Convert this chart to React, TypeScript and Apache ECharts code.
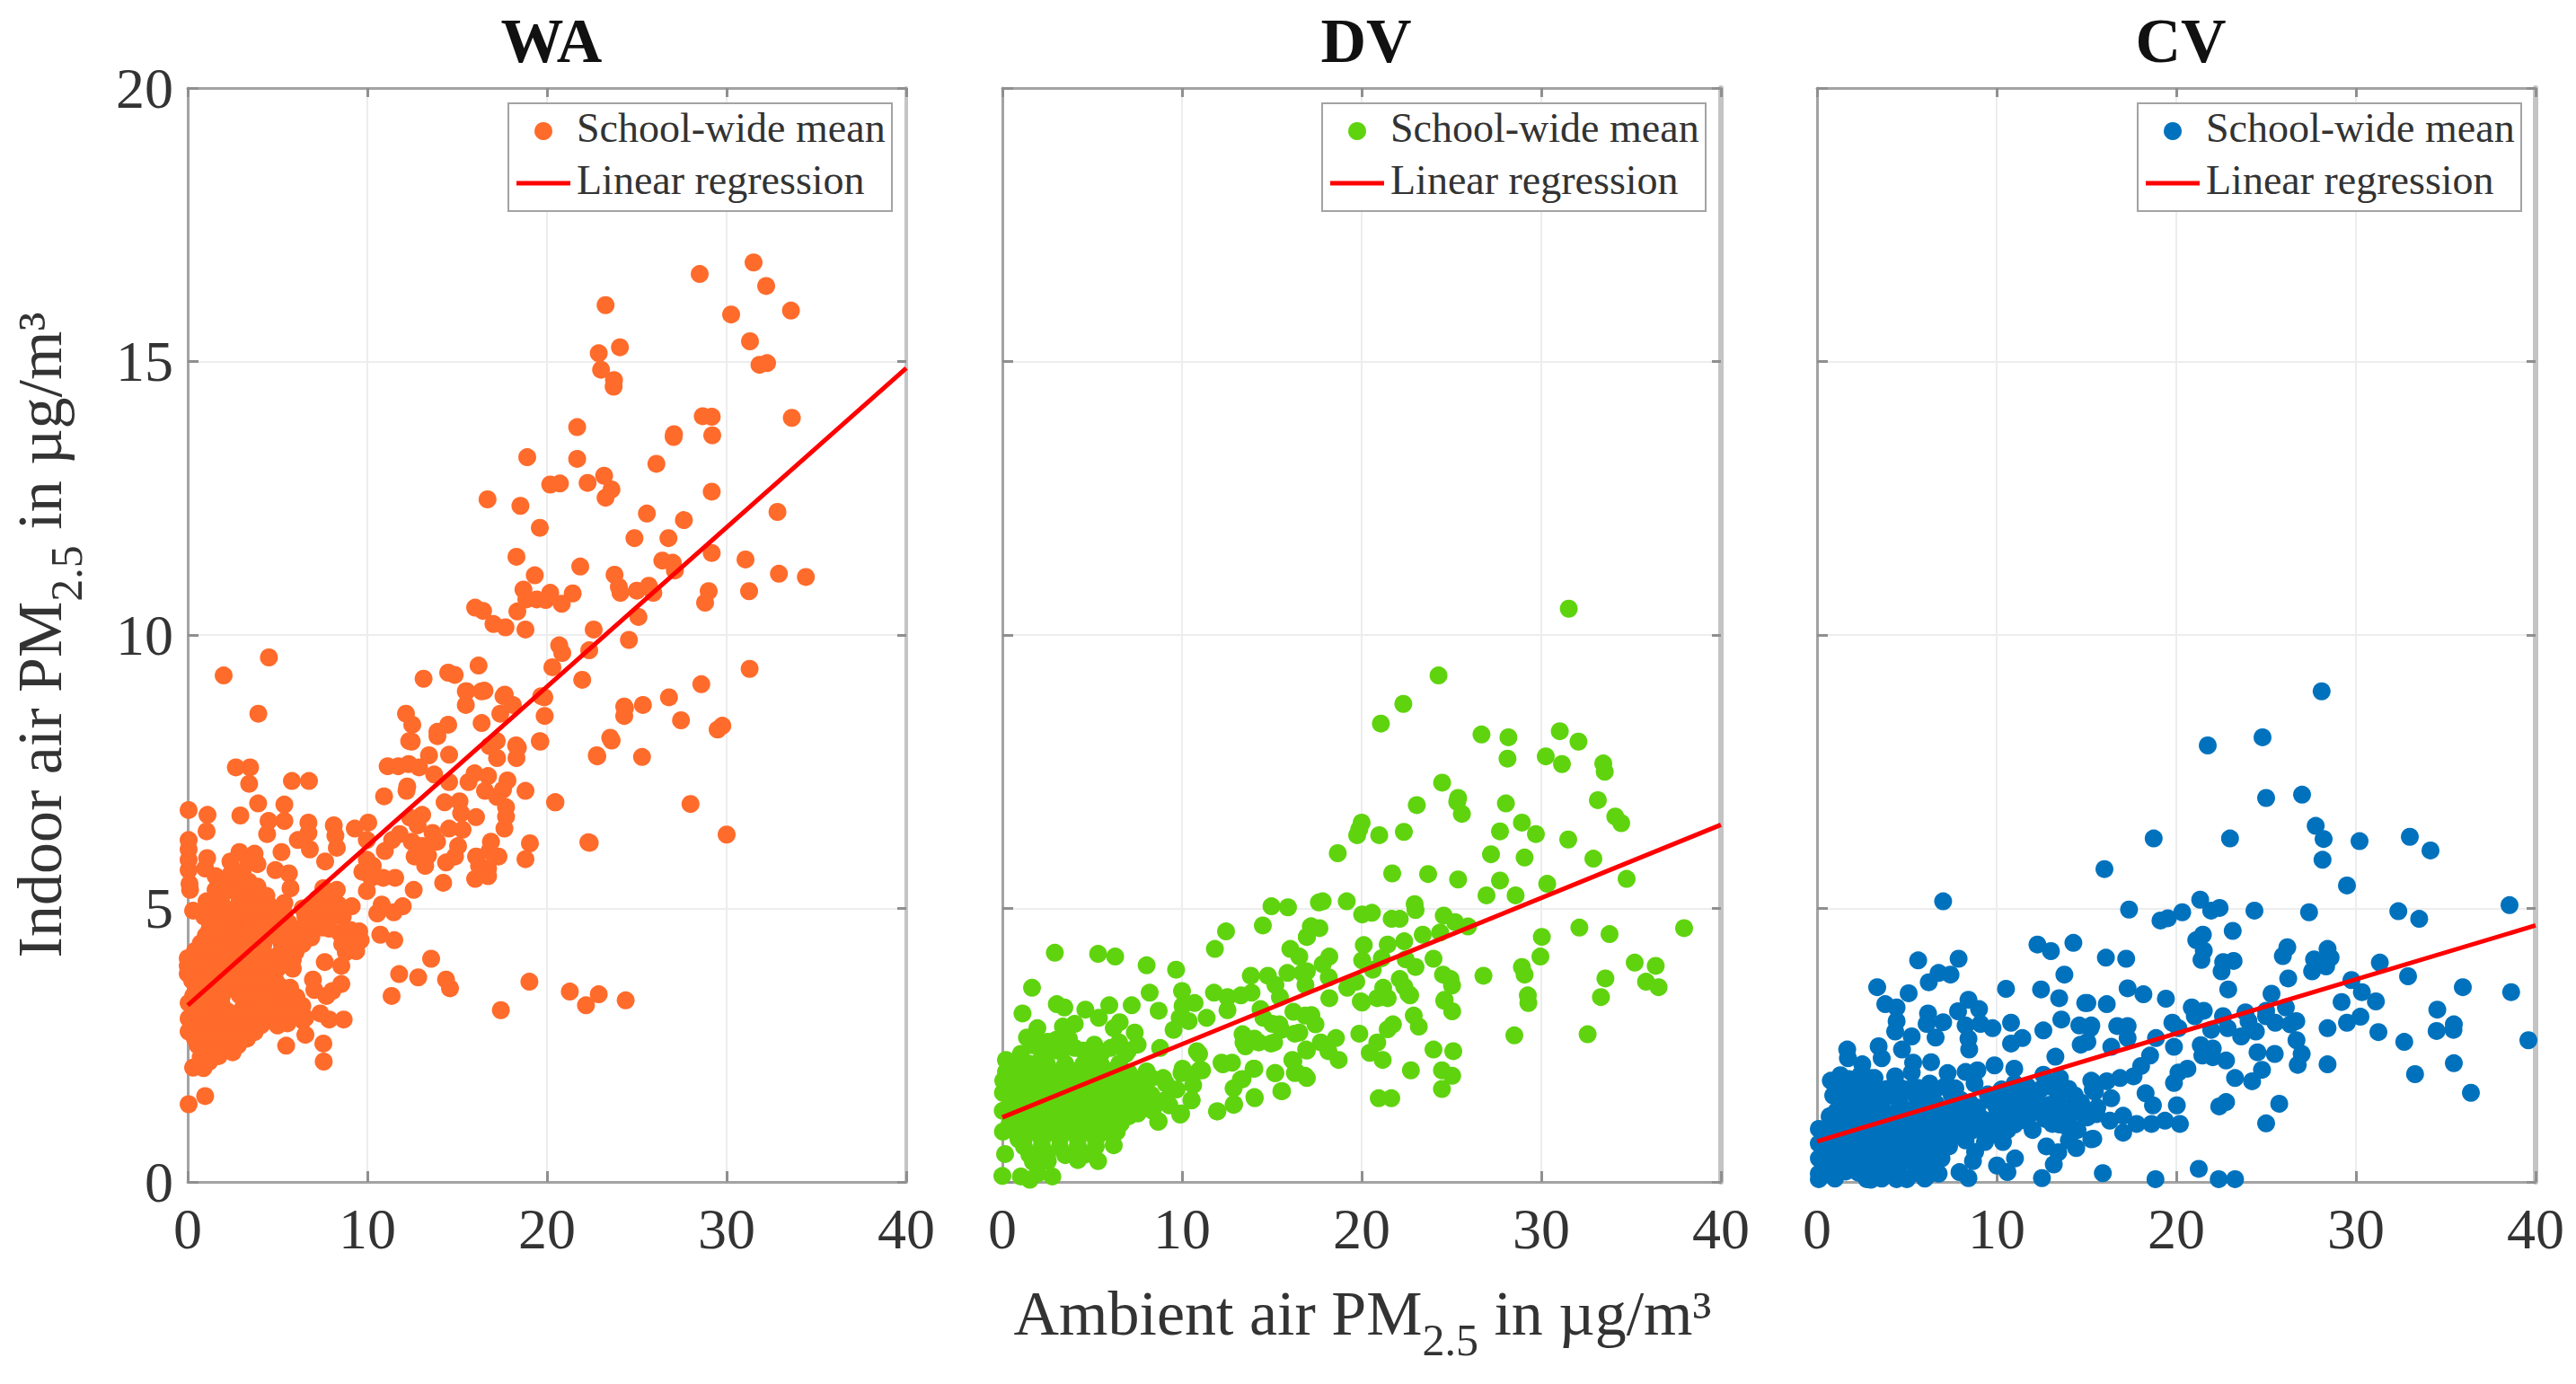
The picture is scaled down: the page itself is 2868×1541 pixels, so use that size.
import React, { useEffect, useRef } from "react";
import * as echarts from "echarts";

const xTicks = [0, 10, 20, 30, 40];
const yTicks = [0, 5, 10, 15, 20];
const panelNames = ["WA", "DV", "CV"];
const legendPoint = "School-wide mean";
const legendLine = "Linear regression";
const xAxisLabel = "{a|Ambient air PM}{s|2.5}{a| in µg/m³}";
const yAxisLabel = "{a|Indoor air PM}{s|2.5}{a| in µg/m³}";

const waPoints: number[][] = [
  [0.05,1.42],[0.97,1.57],[7.57,2.2],[7.55,2.53],[5.48,2.49],[6.55,2.69],[5.55,2.9],[8.68,2.97],[7.88,2.97],[7.38,3.08],[17.43,3.14],[11.35,3.4],[22.17,3.23],[21.27,3.48],[22.88,3.43],[24.38,3.32],[19.02,3.66],[14.6,3.54],[14.38,3.7],[12.83,3.74],[11.77,3.8],[13.55,4.08],[11.5,4.42],[10.72,4.52],[8.55,3.62],[8.05,3.49],[7.72,3.4],[7.05,3.51],[6.97,3.7],[7.63,4.02],[8.55,3.95],[5.85,3.9],[5.85,4.06],[9.38,4.22],[9.63,4.42],[9.55,4.58],[8.97,4.31],[8.88,4.47],[8.47,4.55],[10.55,4.91],[10.8,5.07],[11.47,4.93],[11.97,5.04],[12.58,5.34],[9.97,5.32],[9.13,5.04],[8.63,4.85],[8.38,5.07],[8.3,5.34],[7.55,5.37],[7.55,4.91],[6.88,4.47],[6.72,4.8],[7.88,4.63],[5.72,5.37],[5.63,5.64],[4.88,5.7],[5.22,6.03],[7.65,5.86],[6.8,6.08],[6.13,6.25],[6.72,6.57],[6.72,6.38],[8.13,6.52],[8.3,6.11],[8.22,6.33],[9.3,6.46],[10.05,6.57],[9.97,6.25],[10.3,5.78],[9.97,5.89],[10.22,5.56],[11.55,5.56],[10.88,5.56],[10.97,6.05],[11.38,6.25],[11.8,6.36],[5.38,6.9],[5.38,6.6],[4.5,6.6],[4.42,6.36],[3.92,6.92],[2.93,6.7],[3.42,7.28],[3.47,7.58],[2.68,7.58],[5.8,7.33],[6.75,7.33],[0.05,6.8],[1.1,6.71],[1.05,6.41],[0.05,6.25],[0.05,6.08],[0.05,5.89],[0.05,5.7],[1.08,5.92],[0.97,5.73],[0.13,5.34],[0.1,5.45],[0.3,4.96],
  [2.88,6.03],[3.72,6.0],[2.38,5.86],[3.38,5.84],[3.88,5.81],[1.55,5.59],[2.38,5.62],[3.05,5.67],[1.55,5.34],[2.38,5.34],[3.3,5.34],[3.88,5.4],[4.38,5.23],[1.05,5.13],[1.88,5.1],[2.88,5.12],[3.72,5.1],[4.55,5.05],[5.38,5.1],
  [0.92,4.85],[2.05,4.8],[2.88,4.88],[3.88,4.82],[4.72,4.78],[5.38,4.9],[1.22,4.63],[2.05,4.6],[3.05,4.65],[4.05,4.6],[4.88,4.65],[6.22,4.62],[7.22,4.66],[0.72,4.36],[1.55,4.38],[2.38,4.34],[3.38,4.38],[4.22,4.35],[5.22,4.37],[6.05,4.34],[0,4.09],[0.8,4.1],[1.72,4.07],[2.72,4.1],[3.72,4.08],[4.72,4.1],[5.72,4.07],[0,3.81],[0.72,3.83],[1.63,3.8],[2.55,3.82],[3.55,3.8],[4.38,3.82],[0,3.95],[0.47,3.54],[1.38,3.56],[2.3,3.53],[3.55,3.55],[4.38,3.53],[5.22,3.56],[6.05,3.38],[0.05,3.27],[0.88,3.28],[1.88,3.26],[3.38,3.28],[4.38,3.26],[5.38,3.28],[6.38,3.22],[0.05,2.99],[0.88,3.0],[1.72,2.98],[2.55,3.0],[3.72,2.98],[4.55,3.0],[6.55,3.0],[0.05,2.75],[0.88,2.76],[1.72,2.74],[2.38,2.76],[3.72,2.74],[0.55,2.5],[1.38,2.52],[2.22,2.49],[2.8,2.5],[0.72,2.28],[1.72,2.3],[0.3,2.09],[0.88,2.08],
  [6.55,4.85],[8.05,4.85],[7.22,5.18],[7.88,5.13],[5.88,4.63],[9.72,5.67],[8.8,4.2],[9.1,4.6],[8.6,4.35],[9.3,4.35],
  [1.45,4.95],[2.4,4.97],[3.3,4.93],[4.3,4.96],[5.0,4.92],[1.6,4.72],[2.5,4.73],[3.5,4.71],[4.5,4.72],[5.6,4.74],[6.7,4.7],[1.0,4.5],[1.9,4.51],[2.9,4.49],[3.8,4.5],[4.6,4.51],[5.6,4.49],[0.4,4.22],[1.2,4.23],[2.2,4.21],[3.2,4.23],[4.2,4.22],[5.2,4.21],[5.9,4.23],[0.35,3.95],[1.2,3.96],[2.1,3.94],[3.1,3.96],[4.0,3.95],[5.0,3.94],[0.25,3.68],[1.0,3.69],[2.0,3.67],[3.0,3.69],[4.0,3.68],[4.9,3.67],[0.3,3.4],[1.1,3.41],[1.9,3.39],[2.9,3.41],[3.9,3.4],[4.8,3.39],[5.7,3.41],[0.45,3.13],[1.3,3.14],[2.2,3.12],[3.0,3.14],[3.9,3.13],[5.0,3.12],[6.0,3.14],[0.45,2.87],[1.3,2.88],[2.1,2.86],[3.1,2.88],[4.1,2.87],[5.0,2.86],[0.4,2.62],[1.2,2.63],[1.9,2.61],[2.6,2.63],[3.3,2.62],[0.9,2.38],[1.8,2.39],[2.5,2.37],[1.2,2.2],[1.9,5.25],[2.8,5.26],[3.5,5.24],[4.1,5.25],[1.9,5.5],[2.8,5.51],[3.4,5.49],
  [6.4,5.0],[7.0,5.02],[7.9,4.98],[6.0,4.2],[7.5,4.65],[6.4,4.35],[5.0,3.9],[5.4,3.5],[5.9,3.1],[6.4,2.95],[5.7,3.55],[4.7,3.3],
  [12.47,8.05],[13.9,8.15],[19.63,8.05],[23.6,8.07],[22.8,7.78],[13.43,7.8],[14.55,7.81],[18.3,7.75],[18.38,7.94],[17.22,7.75],[16.8,7.97],[11.13,7.6],[11.72,7.6],[12.3,7.64],[12.88,7.58],[13.72,7.45],[14.55,7.31],[12.22,7.23],[10.93,7.05],[12.18,7.15],[15.97,7.47],[16.72,7.42],[15.63,7.31],[17.8,7.34],[16.55,7.15],[18.8,7.15],[17.55,7.17],[17.22,7.04],[20.47,6.94],[14.3,6.94],[15.13,6.96],[15.22,6.74],[17.72,6.85],[17.72,6.68],[16.05,6.67],[13.05,6.71],[12.38,6.66],[12.8,6.52],[17.63,6.46],[15.3,6.44],[14.55,6.46],[13.63,6.38],[16.88,6.22],[19.05,6.19],[22.38,6.2],[12.47,6.22],[13.05,6.14],[13.88,6.22],[15.05,6.14],[12.63,5.95],[13.38,5.97],[13.22,5.78],[14.38,5.84],[14.88,5.95],[16.05,5.95],[17.3,5.95],[16.8,6.05],[18.8,5.9],[16.22,5.78],[16.72,5.73],[16,5.54],[16.72,5.59],[14.22,5.47],
  [31.5,16.81],[28.5,16.6],[32.2,16.38],[23.26,16.03],[33.58,15.93],[30.25,15.86],[31.3,15.37],[24.06,15.26],[22.88,15.15],[32.25,14.97],[31.83,14.94],[23.01,14.85],[23.73,14.66],[23.71,14.54],[33.63,13.97],[28.67,14.0],[29.17,13.99],[21.68,13.8],[27.07,13.67],[27.05,13.62],[29.2,13.65],[21.68,13.22],[18.9,13.25],[26.09,13.13],[23.18,12.91],[20.18,12.75],[20.72,12.77],[22.26,12.78],[23.59,12.66],[23.26,12.51],[29.17,12.62],[16.69,12.48],[18.52,12.36],[25.56,12.22],[27.62,12.1],[32.83,12.25],[19.6,11.96],[24.87,11.77],[26.76,11.77],[18.3,11.43],[29.17,11.5],[31.05,11.38],[21.85,11.25],[32.91,11.12],[34.41,11.06],[26.42,11.36],[27.0,11.32],[27.12,11.18],[23.76,11.1],[19.32,11.09],[24.0,10.88],[24.09,10.77],[25.67,10.9],[25.0,10.81],[25.92,10.77],[29.0,10.8],[28.8,10.59],[31.25,10.8],[18.69,10.83],[20.18,10.77],[21.43,10.76],[18.85,10.65],[19.43,10.65],[19.93,10.64],[20.82,10.57],[18.35,10.43],[16.0,10.5],[16.44,10.44],[17.02,10.2],[17.69,10.14],[18.8,10.1],[25.09,10.33],[22.6,10.1],[24.56,9.91],[20.68,9.81],[20.85,9.67],[22.35,9.72],[20.3,9.41],[16.19,9.44],[31.28,9.38],[21.96,9.18],[28.59,9.1],[14.86,9.27],[16.52,8.98],[15.52,8.97],[17.65,8.91],[26.79,8.86],[25.34,8.72],[24.34,8.66],[19.85,8.86],
  [2.0,9.26],[4.52,9.59],[3.93,8.56],[13.13,9.2],[14.5,9.31],[12.15,8.56],[12.5,8.36],[12.33,8.06],[13.9,8.23],[14.5,8.36],[15.48,8.97],[15.48,8.72],[16.36,8.97],[17.58,8.88],[18.1,8.72],[17.4,8.56],[16.36,8.39],[19.68,8.88],[19.87,8.52],[19.6,8.06],[18.28,7.98],[17.2,8.06],[24.3,8.69],[24.3,8.52],[27.46,8.44],[29.76,8.34],[29.5,8.27],[23.52,8.12],[22.77,7.8],[25.29,7.77],[27.99,6.91],[30.0,6.35],[22.3,6.21],[20.45,6.94]
];

const dvPoints: number[][] = [
  [31.53,10.48],[24.28,9.26],[22.32,8.74],[21.07,8.38],[26.67,8.18],[28.17,8.13],[31.03,8.24],[32.07,8.05],[28.12,7.74],[30.25,7.78],[31.15,7.64],[33.45,7.65],[33.53,7.5],[24.48,7.3],[25.37,7.02],[25.32,6.95],[25.58,6.73],[23.07,6.89],[28.03,6.92],[33.15,6.98],[34.12,6.68],[34.45,6.56],[28.92,6.57],[27.7,6.41],[29.7,6.36],[20.0,6.57],[19.87,6.45],[19.75,6.34],[20.98,6.34],[22.35,6.4],[31.5,6.26],[18.67,6.01],[27.2,5.99],[29.07,5.93],[32.9,5.91],[21.7,5.64],[23.7,5.63],[25.37,5.53],[27.7,5.51],[34.75,5.54],[30.33,5.45],[26.95,5.24],[28.57,5.24],[17.83,5.13],[19.17,5.13],[22.95,5.08],[23.0,4.97],[20.03,4.89],[20.57,4.92],[21.67,4.81],[22.12,4.81],[24.57,4.87],[25.2,4.75],[25.92,4.67],[17.65,4.64],[17.2,4.67],[16.95,4.48],[32.12,4.65],[33.8,4.53],[37.95,4.64],[30.03,4.48],[23.4,4.52],[24.37,4.56],[22.37,4.4],[21.45,4.34],[20.12,4.33],[29.95,4.12],[24.0,4.08],[20.03,4.05],[21.12,4.09],[18.2,4.12],[17.83,3.98],[22.45,4.07],[23.0,3.93],[20.62,3.88],[16.95,3.85],[18.17,3.74],[28.92,3.93],[29.07,3.79],[24.53,3.79],[24.95,3.71],[25.03,3.59],[26.78,3.77],[35.2,4.01],[36.37,3.95],[33.57,3.72],[35.83,3.66],[36.53,3.56],[33.32,3.38],[29.25,3.41],[29.28,3.27],[24.62,3.33],[22.12,3.71],[22.37,3.57],[22.7,3.41],[21.2,3.55],[21.07,3.38],[19.7,3.66],[19.2,3.55],[18.2,3.36],[19.95,3.3],
  [28.5,2.68],[32.58,2.7],[25.1,2.39],[24.47,2.04],[25.04,1.94],[24.47,1.7],[22.74,2.04],[24.0,2.42],[20.95,1.53],[21.65,1.53],[25.04,3.12],[24.6,3.31],[23.18,2.84],[22.9,3.04],[22.6,3.44],[21.45,3.36],[20.87,3.36],[20.02,3.28],[21.74,2.88],[21.45,2.79],[19.87,2.71],[20.45,2.36],[20.87,2.55],[21.17,2.23],[18.72,2.23],[18.15,2.39],[17.72,2.55],[18.57,2.63],[17.43,2.88],[16.85,3.04],[16.91,2.42],[16.28,2.71],[16.85,1.94],[16.28,1.99],[16.14,2.23],[15.57,1.66],[15.2,1.99],[15.42,2.88],[15.13,2.55],[14.27,2.55],[13.42,2.55],[13.98,2.07],[13.27,1.87],[14.05,1.53],[12.9,1.42],[11.97,1.29],[12.27,2.15],[10.97,2.04],[10.53,1.5],[9.9,1.23],[9.97,1.99],[10.83,2.39],[9.1,1.5],[8.67,1.1],
  [2.92,4.19],[5.33,4.17],[6.28,4.12],[8.03,3.96],[9.67,3.88],[1.65,3.55],[8.2,3.46],[10.0,3.49],[11.78,3.46],[11.83,4.26],[12.45,4.58],[14.5,4.69],[14.98,5.04],[15.9,5.02],[17.62,5.11],[17.17,4.67],[16.95,4.48],[16.03,4.26],[16.53,4.12],[13.83,3.77],[14.78,3.77],[15.87,3.82],[16.7,3.82],[15.2,3.6],[16.87,3.6],[13.87,3.46],[13.28,3.41],[12.53,3.38],[3.03,3.25],[3.45,3.19],[4.62,3.15],[5.95,3.23],[7.2,3.23],[1.12,3.08],[5.37,3.0],[8.7,3.13],[6.53,2.92],[10.03,3.22],[10.7,3.27],[9.87,3.0],[11.37,3.0],[12.53,3.14],[14.37,3.16],[15.45,3.38],[10.37,2.94],[6.2,2.81],[3.37,2.84],[4.03,2.89],[1.95,2.81],[1.37,2.64],[3.7,2.62],[2.53,2.56],[1.7,2.5],[7.37,2.73],[7.53,2.51],[5.12,2.51],[9.53,2.78],[8.78,2.45],[13.37,2.7],[14.03,2.62],[13.53,2.48],[14.95,2.53],[10.95,2.34],[16.95,2.4],[16.53,2.73],[15.53,2.78],[17.2,3.05],[16.2,3.11],[14.53,3.0],[15.03,2.89],
  [0.2,2.23],[1.03,2.34],[2.2,2.29],[3.03,2.4],[4.03,2.45],[5.03,2.29],[6.03,2.45],[6.87,2.34],[12.2,2.18],[12.78,2.18],[14.03,2.07],[16.2,2.21],[16.37,2.01],[16.95,1.9],[15.17,1.99],[10.03,2.07],[11.12,2.04],[10.53,1.96],[8.95,1.9],[13.37,1.88],[12.87,1.71],[10.62,1.77],[9.7,1.69],[15.53,1.66],[14.03,1.55],[12.87,1.41],[11.95,1.29],[10.53,1.49],[9.95,1.25],[8.7,1.11],[8.87,1.47],[8.03,1.63],[8.37,1.3],[7.53,1.25],[6.2,0.67],[6.37,0.92],[5.33,0.38],[4.2,0.4],[2.78,0.1],[1.95,0.15],[1.03,0.1],[1.53,0.04],[0,0.11],[0.15,0.51],[0.03,0.92],[0.03,1.63],[0.2,2.01],
  [1.03,2.01],[2.03,2.03],[3.03,2.0],[4.03,2.02],[5.03,2.0],[6.03,2.02],[7.03,2.0],[8.03,2.02],[0.7,1.74],[1.7,1.75],[2.7,1.73],[3.7,1.75],[4.7,1.74],[5.7,1.73],[6.7,1.75],[7.7,1.74],[0.87,1.47],[1.87,1.48],[2.87,1.46],[3.87,1.48],[4.87,1.47],[5.87,1.46],[6.87,1.48],[1.03,1.19],[2.03,1.2],[3.03,1.18],[4.03,1.2],[5.03,1.19],[6.03,1.18],[7.03,1.2],[0.7,0.92],[1.7,0.93],[2.7,0.91],[3.7,0.93],[4.7,0.92],[5.7,0.91],[1.2,0.65],[2.2,0.66],[3.2,0.64],[4.2,0.66],[5.2,0.65],[1.7,0.37],[2.53,0.38],
  [0.6,2.15],[1.5,2.16],[2.5,2.14],[3.5,2.16],[4.5,2.15],[5.5,2.14],[6.5,2.16],[0.5,1.88],[1.5,1.89],[2.5,1.87],[3.5,1.89],[4.5,1.88],[5.5,1.87],[6.5,1.89],[7.5,1.88],[0.3,1.6],[1.2,1.61],[2.2,1.59],[3.2,1.61],[4.2,1.6],[5.2,1.59],[6.2,1.61],[7.2,1.6],[8.3,1.59],[0.5,1.33],[1.4,1.34],[2.4,1.32],[3.4,1.34],[4.4,1.33],[5.4,1.32],[6.4,1.34],[7.3,1.33],[0.4,1.06],[1.5,1.07],[2.5,1.05],[3.5,1.07],[4.5,1.06],[5.5,1.05],[6.6,1.07],[0.9,0.78],[1.2,0.79],[2.2,0.77],[3.2,0.79],[4.2,0.78],[5.2,0.77],[1.5,0.5],[2.5,0.51],[3.5,0.49],[4.6,0.5],
  [2.0,2.55],[3.0,2.6],[2.5,2.4],[3.5,2.45],[4.5,2.4],[5.5,2.35],[6.5,2.55],[7.0,2.4],[8.3,1.9],[9.1,1.8],[9.3,1.4],[8.0,1.35],[7.5,1.5],[0.05,1.85],[0.02,1.3]
];

const cvPoints: number[][] = [
  [28.09,8.97],[24.8,8.13],[21.75,7.98],[25.0,7.02],[27.0,7.08],[27.76,6.51],[28.2,6.27],[18.74,6.28],[22.99,6.28],[30.2,6.23],[33.0,6.31],[34.15,6.06],[28.14,5.89],[16.0,5.72],[29.5,5.42],[21.33,5.16],[17.37,4.98],[20.33,4.93],[19.53,4.82],[19.12,4.78],[21.94,4.96],[22.41,5.01],[24.35,4.96],[27.39,4.93],[32.36,4.95],[33.52,4.81],[38.55,5.06],[23.14,4.59],[21.48,4.52],[21.11,4.42],[21.53,4.23],[21.4,4.06],[26.18,4.29],[25.93,4.13],[16.08,4.1],[17.21,4.08],[22.61,4.02],[23.19,4.04],[22.52,3.85],[28.42,4.26],[28.59,4.1],[27.67,4.07],[28.0,4.01],[28.34,3.94],[27.56,3.85],[31.33,4.01],[29.75,3.69],[26.23,3.72],[32.9,3.76],[17.29,3.54],[18.17,3.43],[19.42,3.35],[22.89,3.52],[25.3,3.44],[35.95,3.56],[38.64,3.47],[16.13,3.25],[15.05,3.27],[30.33,3.47],[31.11,3.3],[29.2,3.29],[20.86,3.19],[21.53,3.13],[21.03,3.03],[22.6,3.03],[23.85,3.1],[25.0,3.13],[26.1,3.19],[34.53,3.15],[30.25,3.02],[29.5,2.91],[28.42,2.81],[26.68,2.94],[26.35,2.88],[25.51,2.91],[25.0,3.03],[19.78,2.91],[20.12,2.81],[35.45,2.88],[34.49,2.76],[35.43,2.78],[31.25,2.74],[32.69,2.56],[39.6,2.59],[15.22,2.81],[16.71,2.85],[17.29,2.85],[18.87,2.63],[17.29,2.63],[15.05,2.56],[21.94,2.78],[22.86,2.81],[24.02,2.94],[24.43,2.75],[23.61,2.66],[26.69,2.59],[26.98,2.34],[26.76,2.14],[28.42,2.15],[19.87,2.47],[16.38,2.47],[21.36,2.5],[22.03,2.44],[21.45,2.31],[22.03,2.28],[24.52,2.37],[25.48,2.34],[22.77,2.22],[24.77,2.05],[23.27,1.9],[24.22,1.84],[20.62,2.07],[20.12,2.0],[19.87,1.81],[35.45,2.17],[33.29,1.97],[36.4,1.63],[18.54,2.31],[18.04,2.12],[17.62,1.93],[16.87,1.9],[16.13,1.84],[15.38,1.81],[15.47,1.65],[16.38,1.53],[18.29,1.62],[18.7,1.4],[20.03,1.4],[20.2,1.06],[19.37,1.12],[18.62,1.06],[17.79,1.06],[17.04,1.21],[17.04,0.9],[16.3,1.12],[15.55,1.24],[15.05,1.18],[15.38,0.79],[22.77,1.46],[22.39,1.38],[25.73,1.43],[25.0,1.07],[15.91,0.16],[18.84,0.05],[21.25,0.24],[22.36,0.05],[23.27,0.05],
  [7.02,5.13],[5.63,4.05],[7.88,4.08],[6.77,3.82],[7.43,3.79],[6.22,3.65],[3.35,3.56],[5.1,3.45],[12.27,4.34],[13.02,4.22],[14.27,4.37],[13.77,3.79],[10.52,3.53],[12.47,3.52],[13.48,3.36],[14.93,3.27],[3.8,3.25],[4.43,3.19],[8.43,3.33],[9.02,3.16],[7.85,3.12],[6.18,3.08],[4.43,2.94],[7.02,2.92],[13.6,2.97],[10.8,2.91],[4.35,2.75],[6.1,2.89],[6.6,2.64],[8.27,2.86],[9.77,2.81],[9.1,2.89],[12.6,2.77],[5.27,2.66],[14.6,2.86],[15.27,2.86],[11.43,2.63],[10.8,2.53],[8.43,2.62],[3.43,2.48],[1.68,2.42],[4.73,2.42],[8.47,2.42],[14.68,2.51],[1.72,2.26],[3.6,2.26],[2.52,2.15],[5.35,2.18],[6.35,2.19],[13.27,2.29],[9.88,2.13],[10.98,2.07],[5.27,2.0],[4.35,1.93],[0.77,1.85],[1.77,1.88],[2.93,1.9],[7.27,1.99],[8.27,2.01],[8.93,2.04],[12.6,1.96],[13.52,1.9],[15.27,1.85],[15.35,1.69],[6.27,1.8],[1.27,1.53],[2.27,1.63],[3.18,1.69],[4.1,1.58],[5.1,1.69],[7.1,1.74],[8.77,1.8],[10.27,1.69],[11.27,1.69],[12.43,1.69],[13.43,1.58],[14.35,1.58],[9.77,1.47],[10.93,1.36],[12.93,1.41],[13.77,1.36],[14.93,1.19],[15.6,1.36],[8.93,1.36],[1.1,1.3],[2.1,1.3],[3.1,1.36],[4.27,1.25],[5.27,1.3],[6.27,1.36],[7.27,1.25],[8.27,1.19],[9.27,1.14],[11.68,1.11],[13.1,1.06],[14.02,0.97],[10.43,1.08],[15.27,0.78],[12.77,0.65],[14.43,0.62],[14.02,0.76],[13.43,0.54],[13.18,0.32],[12.52,0.07],[9.35,0.73],[10.35,0.73],[8.68,0.38],[10.02,0.3],[11.02,0.43],[10.6,0.18],[7.93,0.18],[8.43,0.07],[8.27,0.76],[7.27,0.86],
  [0.1,0.97],[1.1,0.98],[2.1,0.96],[3.1,0.98],[4.1,0.97],[5.1,0.96],[6.1,0.98],[7.1,0.97],[8.27,0.97],[9.27,0.96],[0.1,0.7],[1.1,0.71],[2.1,0.69],[3.1,0.71],[4.1,0.7],[5.1,0.69],[6.1,0.71],[6.93,0.7],[0.1,0.43],[1.1,0.44],[2.1,0.42],[3.1,0.44],[4.1,0.43],[5.1,0.42],[6.1,0.44],[6.93,0.43],[0.1,0.15],[1.1,0.16],[2.77,0.05],[3.6,0.06],[4.43,0.05],[6.1,0.1],[6.77,0.15],
  [1.6,1.1],[2.6,1.11],[3.6,1.09],[4.6,1.11],[5.6,1.1],[6.6,1.09],[7.6,1.11],[8.7,1.1],[0.6,0.83],[1.6,0.84],[2.6,0.82],[3.6,0.84],[4.6,0.83],[5.6,0.82],[6.6,0.84],[7.6,0.83],[0.6,0.56],[1.6,0.57],[2.6,0.55],[3.6,0.57],[4.6,0.56],[5.6,0.55],[6.6,0.57],[0.6,0.3],[1.6,0.31],[2.6,0.29],[3.6,0.31],[4.6,0.3],[5.6,0.29],[6.4,0.31],[0.1,0.05],[1.0,0.06],[3.0,0.04],[5.0,0.05],[6.0,0.06],[0.7,1.2],
  [1.7,1.45],[2.6,1.46],[3.6,1.44],[4.6,1.46],[5.6,1.45],[6.6,1.44],[7.7,1.46],[8.5,1.45],[1.1,1.7],[2.0,1.71],[2.7,1.72],[3.9,1.7],[4.7,1.71],[5.6,1.72],[6.6,1.7],[7.7,1.71],[9.5,1.6],[10.7,1.5],[11.8,1.4],[12.4,1.3],[9.9,1.15],[11.0,1.05],[12.0,0.95],[8.7,0.95],[8.8,0.55],[9.9,0.9],[13.6,1.15],[14.3,1.3],[12.7,1.15],[12.2,1.6],[11.6,1.55],
  [0.85,1.22],[1.85,1.23],[2.85,1.21],[3.85,1.23],[4.85,1.22],[5.85,1.21],[6.85,1.23],[0.5,0.95],[1.5,0.96],[2.5,0.94],[3.5,0.96],[4.5,0.95],[5.5,0.94],[6.5,0.96],[7.5,0.95],[0.35,0.65],[1.35,0.66],[2.35,0.64],[3.35,0.66],[4.35,0.65],[5.35,0.64],[6.35,0.66],[7.35,0.65],[0.35,0.37],[1.35,0.38],[2.35,0.36],[3.35,0.38],[4.35,0.37],[5.35,0.36],[6.35,0.38],[0.6,0.18],[1.6,0.19],[2.3,0.17],[3.2,0.19],[4.0,0.18],[5.5,0.17],
  [0.9,1.58],[2.9,1.52],[3.7,1.55],[5.5,1.58],[6.1,1.6],[7.5,1.58],[1.3,1.95],[2.4,1.95],[3.2,1.9],[8.0,1.5],[8.9,1.15],[7.9,1.08],[7.6,1.35],[10.0,1.35],[10.6,1.25],[11.2,1.35],[11.9,1.25],[10.1,1.6],[11.0,1.8],[11.7,1.75],[12.9,1.75],[13.1,1.3],[14.0,1.7],[14.7,1.45],[9.5,1.05],[9.6,0.85],[10.6,0.95],[13.5,1.05],[14.0,1.15],[14.5,0.95]
];

const waRegression = [[0, 3.23], [40, 14.88]];
const dvRegression = [[0, 1.18], [40, 6.53]];
const cvRegression = [[0, 0.74], [40, 4.69]];

const panelPoints = [waPoints, dvPoints, cvPoints];
const panelLines = [waRegression, dvRegression, cvRegression];
const panelColors = ["#FF6B2B", "#5FD40E", "#0072BD"];

const FONT = '"Liberation Serif", serif';
const TEXT = "#333333";
const FRAME = "#a3a3a3";
const GRID_LINE = "#ededed";
const TICK = "#8f8f8f";
const gridLefts = [209, 1116, 2023];
const gridTop = 98;
const gridW = 800;
const gridH = 1218;
const legendLefts = [566, 1472, 2380];
const rightWidths = [4, 6, 6];
const titleFont = 70;

export default function App() {
  const ref = useRef<HTMLDivElement>(null);
  useEffect(() => {
    document.body.style.margin = "0";
    const chart = echarts.init(ref.current!, undefined, { renderer: "svg" });
    const grid: any[] = [];
    const xAxis: any[] = [];
    const yAxis: any[] = [];
    const series: any[] = [];
    const title: any[] = [];
    const graphic: any[] = [];

    panelNames.forEach((name, i) => {
      grid.push({ left: gridLefts[i], top: gridTop, width: gridW, height: gridH, containLabel: false });
      title.push({
        text: name,
        left: gridLefts[i] + gridW / 2,
        top: 5,
        textAlign: "center",
        textStyle: { fontFamily: FONT, fontSize: titleFont, fontWeight: "bold", color: "#111111" },
      });
      xAxis.push({
        type: "value", gridIndex: i, min: 0, max: 40, interval: 10, position: "bottom",
        axisLine: { show: true, onZero: false, lineStyle: { color: FRAME, width: 3 } },
        axisTick: { show: true, inside: true, length: 12, lineStyle: { color: TICK, width: 3 } },
        splitLine: { show: true, lineStyle: { color: GRID_LINE, width: 2 } },
        axisLabel: {
          show: true, margin: 20, fontFamily: FONT, fontSize: 64, color: TEXT,
          showMinLabel: true, showMaxLabel: true, hideOverlap: false,
          customValues: xTicks,
          alignMinLabel: "center", alignMaxLabel: "center",
        },
      });
      xAxis.push({
        type: "value", gridIndex: i, min: 0, max: 40, interval: 10, position: "top",
        axisLine: { show: true, onZero: false, lineStyle: { color: FRAME, width: 3 } },
        axisTick: { show: true, inside: true, length: 10, lineStyle: { color: TICK, width: 3 } },
        splitLine: { show: false }, axisLabel: { show: false },
      });
      yAxis.push({
        type: "value", gridIndex: i, min: 0, max: 20, interval: 5, position: "left",
        axisLine: { show: true, onZero: false, lineStyle: { color: FRAME, width: 3 } },
        axisTick: { show: true, inside: true, length: 12, lineStyle: { color: TICK, width: 3 } },
        splitLine: { show: true, lineStyle: { color: GRID_LINE, width: 2 } },
        axisLabel: {
          show: i === 0, margin: 16, fontFamily: FONT, fontSize: 64, color: TEXT,
          customValues: yTicks, padding: [0, 0, 20, 0],
        },
      });
      yAxis.push({
        type: "value", gridIndex: i, min: 0, max: 20, interval: 5, position: "right",
        axisLine: { show: true, onZero: false, lineStyle: { color: "#c4c4c4", width: rightWidths[i] } },
        axisTick: { show: true, inside: true, length: 10, lineStyle: { color: TICK, width: 3 } },
        splitLine: { show: false }, axisLabel: { show: false },
      });
      series.push({
        type: "scatter", name: `${name} ${legendPoint}`,
        xAxisIndex: i * 2, yAxisIndex: i * 2,
        data: panelPoints[i], symbol: "circle", symbolSize: 20, clip: false,
        itemStyle: { color: panelColors[i], opacity: 1 }, z: 3,
      });
      series.push({
        type: "line", name: `${name} ${legendLine}`,
        xAxisIndex: i * 2, yAxisIndex: i * 2,
        data: panelLines[i], showSymbol: false, symbol: "none",
        lineStyle: { color: "#ff0000", width: 5 }, z: 4,
      });

      const lx = legendLefts[i];
      graphic.push(
        { type: "rect", z: 10, shape: { x: lx, y: 115, width: 427, height: 120 }, style: { fill: "#ffffff", stroke: "#a3a3a3", lineWidth: 2 } },
        { type: "circle", z: 11, shape: { cx: lx + 39, cy: 146, r: 10 }, style: { fill: panelColors[i] } },
        { type: "line", z: 11, shape: { x1: lx + 9, y1: 204, x2: lx + 69, y2: 204 }, style: { stroke: "#ff0000", lineWidth: 5 } },
        { type: "text", z: 11, x: lx + 76, y: 142, style: { text: legendPoint, fontFamily: FONT, fontSize: 46, fill: TEXT, verticalAlign: "middle" } },
        { type: "text", z: 11, x: lx + 76, y: 200, style: { text: legendLine, fontFamily: FONT, fontSize: 46, fill: TEXT, verticalAlign: "middle" } },
      );
    });

    const rich = {
      a: { fontFamily: FONT, fontSize: 70, lineHeight: 110, fill: TEXT, color: TEXT },
      s: { fontFamily: FONT, fontSize: 50, lineHeight: 50, fill: TEXT, color: TEXT, verticalAlign: "bottom" },
    };
    graphic.push(
      { type: "text", z: 11, x: 1517, y: 1462, style: { text: xAxisLabel, rich, align: "center", verticalAlign: "middle", fill: TEXT } },
      { type: "text", z: 11, x: 44, y: 707, rotation: Math.PI / 2, style: { text: yAxisLabel, rich, align: "center", verticalAlign: "middle", fill: TEXT } },
    );

    chart.setOption({
      animation: false,
      backgroundColor: "#ffffff",
      title, grid, xAxis, yAxis, series, graphic,
    });
    return () => chart.dispose();
  }, []);
  return <div ref={ref} style={{ position: "absolute", left: 0, top: 0, width: 2868, height: 1541 }} />;
}
